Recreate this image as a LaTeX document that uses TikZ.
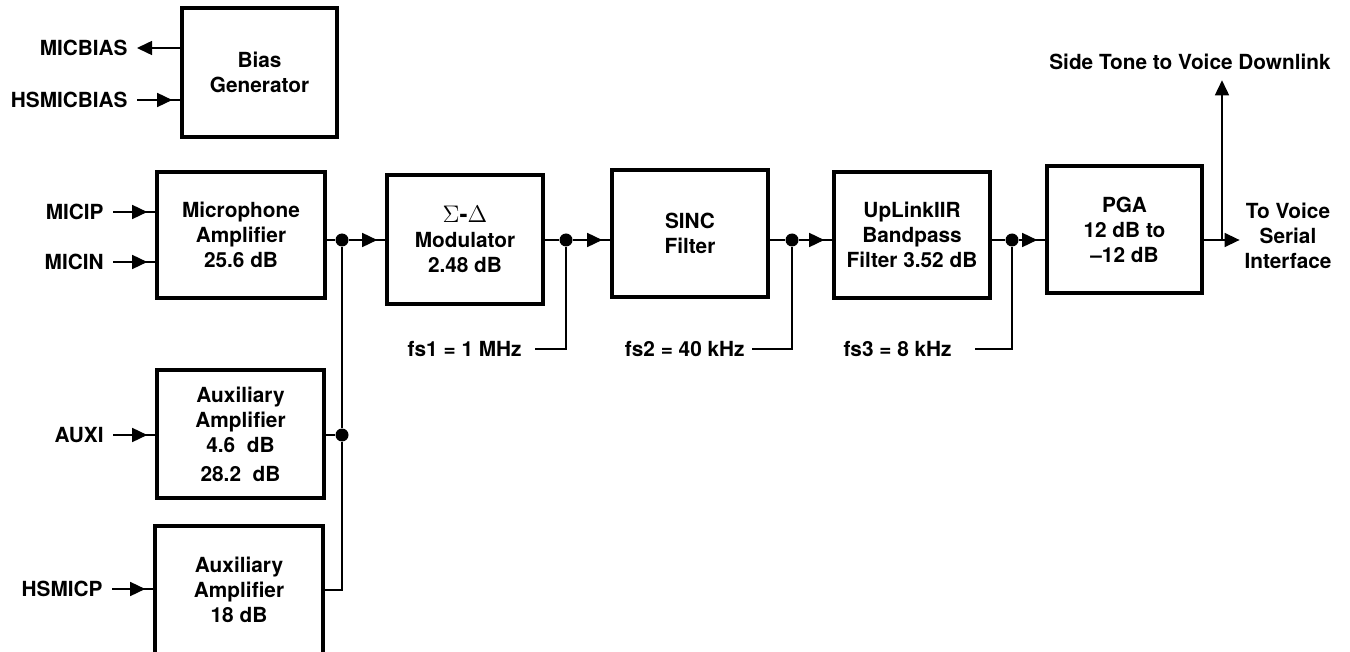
\documentclass[tikz,border=0pt]{standalone}
\usepackage{fontspec}
\setmainfont{TeX Gyre Heros}
\usetikzlibrary{arrows.meta,positioning,decorations.markings}

\begin{document}
\begin{tikzpicture}[x=0.5pt,y=-0.5pt,>={Triangle[length=7.5pt,width=7pt]},
  font=\bfseries\fontsize{10.4}{12.5}\selectfont,
  blk/.style={draw,line width=1.8pt,align=center,inner sep=0pt},
  lbl/.style={anchor=east,inner sep=0pt,inner xsep=4.5pt},
  dot/.style={circle,fill,inner sep=0pt,minimum size=6.5pt},
  wire/.style={line width=0.75pt},
  sig/.style={wire,decoration={markings,mark=at position -4pt with {\arrow{>}}},postaction={decorate}},
  sigout/.style={wire,->}]
\useasboundingbox (0,0) rectangle (1350,652);
% blocks
\node[blk,minimum width=77.5pt,minimum height=64.5pt] (bias) at (259.5,72.5) {Bias\\Generator};
\node[blk,minimum width=84pt,minimum height=63pt] (mic) at (241,235) {Microphone\\Amplifier\\25.6 dB};
\node[blk,minimum width=78pt,minimum height=64.5pt] (mod) at (465,239.5) {{\fontsize{12}{12.5}\selectfont$\Sigma$-$\Delta$}\\Modulator\\2.48 dB};
\node[blk,minimum width=78pt,minimum height=63.5pt] (sinc) at (690,233.5) {SINC\\Filter};
\node[blk,minimum width=78pt,minimum height=63pt] (iir) at (912,235) {UpLinkIIR\\Bandpass\\Filter 3.52 dB};
\node[blk,minimum width=77.5pt,minimum height=63.5pt] (pga) at (1124.5,229.5) {PGA\\12 dB to\\--12 dB};
\node[blk,minimum width=83.5pt,minimum height=64pt] (aux1) at (240.5,434) {Auxiliary\\Amplifier\\4.6~~dB\\[2pt]28.2~~dB};
\node[blk,minimum width=84pt,minimum height=64pt] (aux2) at (239,590) {Auxiliary\\Amplifier\\18 dB};
% pins
\node[lbl] (micbias) at (137,48) {MICBIAS};
\node[lbl] (hsmicbias) at (137,100) {HSMICBIAS};
\node[lbl] (micip) at (113,212) {MICIP};
\node[lbl] (micin) at (113,262) {MICIN};
\node[lbl] (auxi) at (113,435) {AUXI};
\node[lbl] (hsmicp) at (112,589) {HSMICP};
\node[lbl,inner xsep=6.5pt] (fs1) at (535,349) {fs1 = 1 MHz};
\node[lbl,inner xsep=3.5pt] (fs2) at (752,349) {fs2 = 40 kHz};
\node[lbl,inner xsep=11.5pt] (fs3) at (975,349) {fs3 = 8 kHz};
\node[inner sep=0pt,inner ysep=5pt] (side) at (1190,62) {Side Tone to Voice Downlink};
\node[align=center,inner sep=2.25pt] (vout) at (1288,235.5) {To Voice\\Serial\\Interface};
% junctions
\node[dot] (j1) at (342,240) {};
\node[dot] (j2) at (566,240) {};
\node[dot] (j3) at (792,240) {};
\node[dot] (j4) at (1012,240) {};
\node[dot] (j5) at (342,435) {};
\coordinate (st) at (1222,240);
% bias
\draw[sigout] (bias.west |- micbias) -- (micbias);
\draw[sig] (hsmicbias) -- (bias.west |- hsmicbias);
% inputs
\draw[sig] (micip) -- (mic.west |- micip);
\draw[sig] (micin) -- (mic.west |- micin);
\draw[sig] (auxi) -- (aux1.west |- auxi);
\draw[sig] (hsmicp) -- (aux2.west |- hsmicp);
% summing node
\draw[wire] (mic.east |- j1) -- (j1);
\draw[wire] (aux1.east |- j5) -- (j5);
\draw[wire] (j1) -- (j5);
\draw[wire] (aux2.east) -| (j5);
% chain
\draw[sig] (j1) -- (mod.west |- j1);
\draw[wire] (mod.east |- j2) -- (j2);
\draw[sig] (j2) -- (sinc.west |- j2);
\draw[wire] (sinc.east |- j3) -- (j3);
\draw[sig] (j3) -- (iir.west |- j3);
\draw[wire] (iir.east |- j4) -- (j4);
\draw[sig] (j4) -- (pga.west |- j4);
\draw[sigout] (pga.east |- st) -- (vout.west |- st);
\draw[sigout] (st) -- (side.south -| st);
% sample rates
\draw[wire] (fs1) -- (fs1 -| j2) -- (j2);
\draw[wire] (fs2) -- (fs2 -| j3) -- (j3);
\draw[wire] (fs3) -- (fs3 -| j4) -- (j4);
\end{tikzpicture}
\end{document}
